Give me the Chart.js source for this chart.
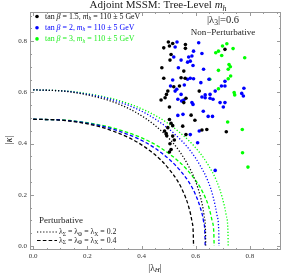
<!DOCTYPE html>
<html><head><meta charset="utf-8">
<script src="https://cdn.jsdelivr.net/npm/chart.js@4/dist/chart.umd.min.js"></script>
<style>html,body{margin:0;padding:0;background:#fff}#wrap{width:285px;height:276px}</style>
</head><body><div id="wrap"><canvas id="c" width="285" height="276"></canvas></div>
<script>
// ---- tick values ----
const xTicks = [0, 0.2, 0.4, 0.6, 0.8];
const yTicks = [0, 0.2, 0.4, 0.6, 0.8];
const minorTicks = [0.05,0.1,0.15,0.25,0.3,0.35,0.45,0.5,0.55,0.65,0.7,0.75,0.85,0.9];

// ---- scatter points: tan beta = 1.5 (black) ----
const blackLam = [0.499,0.515,0.482,0.503,0.562,0.562,0.708,0.509,0.505,0.475,0.556,0.546,0.561,0.482,0.519,0.540,0.497,0.492,0.487,0.472,0.613,0.564,0.556,0.503,0.583,0.503,0.509,0.597,0.552,0.623,0.641,0.713,0.497,0.485,0.491,0.515,0.564,0.521,0.505,0.509,0.503,0.515,0.493];
const blackKap = [0.797,0.791,0.774,0.781,0.787,0.772,0.768,0.748,0.726,0.696,0.683,0.657,0.655,0.655,0.622,0.625,0.605,0.592,0.579,0.570,0.605,0.577,0.560,0.543,0.511,0.494,0.479,0.491,0.468,0.453,0.455,0.446,0.462,0.449,0.439,0.429,0.435,0.414,0.399,0.377,0.367,0.470,0.430];
// ---- tan beta = 2 (blue) ----
const blueLam = [0.531,0.611,0.524,0.592,0.623,0.519,0.546,0.574,0.586,0.580,0.570,0.590,0.536,0.629,0.515,0.570,0.580,0.592,0.649,0.619,0.708,0.695,0.708,0.778,0.507,0.530,0.558,0.524,0.546,0.770,0.776,0.635,0.635,0.653,0.672,0.653,0.664,0.623,0.534,0.556,0.548,0.590,0.586,0.690,0.708,0.702,0.628,0.534,0.553,0.646,0.662,0.613,0.580,0.607,0.672];
const blueKap = [0.797,0.794,0.777,0.761,0.752,0.738,0.726,0.738,0.742,0.722,0.718,0.705,0.696,0.690,0.648,0.651,0.655,0.653,0.651,0.638,0.643,0.625,0.625,0.616,0.625,0.612,0.629,0.605,0.592,0.596,0.586,0.590,0.579,0.592,0.605,0.577,0.573,0.582,0.573,0.570,0.566,0.553,0.560,0.560,0.560,0.543,0.526,0.510,0.514,0.506,0.506,0.449,0.435,0.403,0.295];
// ---- tan beta = 3 (green) ----
const greenLam = [0.699,0.715,0.738,0.674,0.684,0.696,0.781,0.723,0.728,0.720,0.684,0.729,0.720,0.652,0.684,0.742,0.744,0.718,0.772,0.773,0.793];
const greenKap = [0.781,0.790,0.771,0.755,0.761,0.744,0.735,0.709,0.700,0.690,0.686,0.664,0.653,0.651,0.614,0.599,0.590,0.484,0.455,0.364,0.308];

// ---- perturbativity boundaries ----
const dotKap  = [0.610,0.603,0.576,0.553,0.520,0.474,0.410,0.368,0.313,0.254,0.189,0.118,0.059,0];
const dashKap = [0.495,0.490,0.468,0.448,0.422,0.385,0.333,0.298,0.254,0.206,0.153,0.096,0.048,0];
const blackDotLam  = [0,0.127,0.255,0.319,0.382,0.446,0.510,0.541,0.573,0.599,0.618,0.631,0.636,0.637];
const blueDotLam   = [0,0.137,0.274,0.343,0.412,0.480,0.549,0.583,0.617,0.645,0.665,0.679,0.685,0.686];
const greenDotLam  = [0,0.144,0.288,0.360,0.432,0.504,0.576,0.612,0.648,0.677,0.698,0.713,0.719,0.720];
const blackDashLam = [0,0.118,0.237,0.296,0.355,0.414,0.474,0.503,0.533,0.556,0.574,0.586,0.591,0.592];
const blueDashLam  = [0,0.127,0.254,0.318,0.381,0.445,0.508,0.540,0.572,0.597,0.616,0.629,0.634,0.635];
const greenDashLam = [0,0.134,0.267,0.334,0.401,0.468,0.534,0.568,0.601,0.628,0.648,0.661,0.667,0.668];

const BLACK='#000000', BLUE='#0000ff', GREEN='#00ff00';
const zip=(a,b)=>a.map((v,i)=>({x:v,y:b[i]}));
const pts=(lam,kap,col)=>({data:zip(lam,kap),backgroundColor:col,borderColor:col,pointRadius:1.8,pointBorderWidth:0,showLine:false});
const DOT=[1.2,1.9], DASH=[3.6,2.2];
const curve=(lam,kap,col,dash)=>({data:zip(lam,kap),borderColor:col,borderWidth:1.3,borderDash:dash,pointRadius:0,showLine:true,fill:false,cubicInterpolationMode:'monotone'});

const SERIF='"Liberation Serif","DejaVu Serif",serif';
function rich(ctx, parts, x, y, size, align, color){
  let w=0;
  const items=parts.map(p=>{const t=p[0], f=p[1]||''; const sub=f.includes('s'); const it=f.includes('i');
    const fs=sub?size*0.72:size; const font=(it?'italic ':'')+fs+'px '+SERIF; ctx.font=font;
    const m=ctx.measureText(t).width; w+=m; return {t,font,m,sub};});
  let cx = align==='center'? x-w/2 : align==='right'? x-w : x;
  ctx.fillStyle=color; ctx.textBaseline='middle'; ctx.textAlign='left';
  items.forEach(it=>{ctx.font=it.font; ctx.fillText(it.t,cx,y+(it.sub?size*0.28:0)); cx+=it.m;});
}

const framePlugin={id:'frame',
  beforeDatasetsDraw(chart){
    const {ctx,chartArea:a,scales:{x,y}}=chart;
    ctx.save(); ctx.strokeStyle='#9a9a9a'; ctx.lineWidth=1;
    ctx.strokeRect(a.left+0.5,a.top+0.5,a.right-a.left-1,a.bottom-a.top-1);
    const tick=(v,len,ax)=>{
      if(ax==='x'){const px=Math.round(x.getPixelForValue(v))+0.5;
        ctx.beginPath();ctx.moveTo(px,a.bottom);ctx.lineTo(px,a.bottom-len);ctx.moveTo(px,a.top);ctx.lineTo(px,a.top+len);ctx.stroke();}
      else{const py=Math.round(y.getPixelForValue(v))+0.5;
        ctx.beginPath();ctx.moveTo(a.left,py);ctx.lineTo(a.left+len,py);ctx.moveTo(a.right,py);ctx.lineTo(a.right-len,py);ctx.stroke();}
    };
    xTicks.forEach(v=>tick(v,4,'x')); yTicks.forEach(v=>tick(v,4,'y'));
    minorTicks.forEach(v=>{tick(v,2,'x');tick(v,2,'y');});
    ctx.restore();
  },
  afterDraw(chart){
    const {ctx}=chart; ctx.save();
    rich(ctx,[['Adjoint MSSM: Tree-Level '],['m','i'],['h','is']],158,5.5,11,'center','#222');
    // scatter legend
    const leg=[['1.5',BLACK,'#111'],['2',BLUE,BLUE],['3',GREEN,'#22ee22']];
    leg.forEach((l,i)=>{const yy=16.5+i*11.2;
      ctx.fillStyle=l[1];ctx.beginPath();ctx.arc(37,yy,1.8,0,Math.PI*2);ctx.fill();
      rich(ctx,[['tan '],['β','i'],[' = '+l[0]+', '],['m','i'],['h','is'],[' = 110 ± 5 GeV']],45,yy,7.9,'left',l[2]);
    });
    rich(ctx,[['|λ'],['3','s'],['|=0.6']],223,20.5,10.5,'center','#222');
    rich(ctx,[['Non−Perturbative']],223,33,9,'center','#222');
    rich(ctx,[['Perturbative']],39,220.5,9,'left','#222');
    const lines=[[DOT,'0.2',232],[DASH,'0.4',240.5]];
    lines.forEach(l=>{ctx.strokeStyle='#000';ctx.lineWidth=1.1;ctx.setLineDash(l[0]);
      ctx.beginPath();ctx.moveTo(37,l[2]);ctx.lineTo(57,l[2]);ctx.stroke();ctx.setLineDash([]);
      rich(ctx,[['λ'],['Σ','s'],[' = λ'],['Φ','s'],[' = λ'],['X','s'],[' = '+l[1]]],59,l[2],7.8,'left','#222');
    });
    // axis titles
    rich(ctx,[['|λ'],['H','is'],['|']],155,268,9.5,'center','#222');
    ctx.translate(9,140); ctx.rotate(-Math.PI/2);
    rich(ctx,[['|'],['κ','i'],['|']],0,0,9.5,'center','#222');
    ctx.restore();
  }
};

new Chart(document.getElementById('c'),{
  type:'scatter',
  data:{datasets:[
    pts(blackLam,blackKap,BLACK), pts(blueLam,blueKap,BLUE), pts(greenLam,greenKap,GREEN),
    curve(blackDotLam,dotKap,BLACK,DOT), curve(blueDotLam,dotKap,BLUE,DOT), curve(greenDotLam,dotKap,GREEN,DOT),
    curve(blackDashLam,dashKap,BLACK,DASH), curve(blueDashLam,dashKap,BLUE,DASH), curve(greenDashLam,dashKap,GREEN,DASH)
  ]},
  options:{
    responsive:false, animation:false, devicePixelRatio:1,
    layout:{padding:{top:12,right:3,left:0,bottom:0}},
    plugins:{legend:{display:false},tooltip:{enabled:false},title:{display:false}},
    scales:{
      x:{type:'linear',min:-0.012,max:0.915,
        afterBuildTicks:s=>{s.ticks=xTicks.map(v=>({value:v}));},
        afterFit:s=>{s.height=26;},
        grid:{display:false,drawTicks:false},border:{display:false},
        ticks:{font:{family:SERIF,size:7},color:'#333',padding:2,maxRotation:0,autoSkip:false,callback:v=>Number(v).toFixed(1)}},
      y:{type:'linear',min:-0.016,max:0.914,
        afterBuildTicks:s=>{s.ticks=yTicks.map(v=>({value:v}));},
        afterFit:s=>{s.width=30;},
        grid:{display:false,drawTicks:false},border:{display:false},
        ticks:{font:{family:SERIF,size:7},color:'#333',padding:3,autoSkip:false,callback:v=>Number(v).toFixed(1)}}
    }
  },
  plugins:[framePlugin]
});
</script></body></html>
